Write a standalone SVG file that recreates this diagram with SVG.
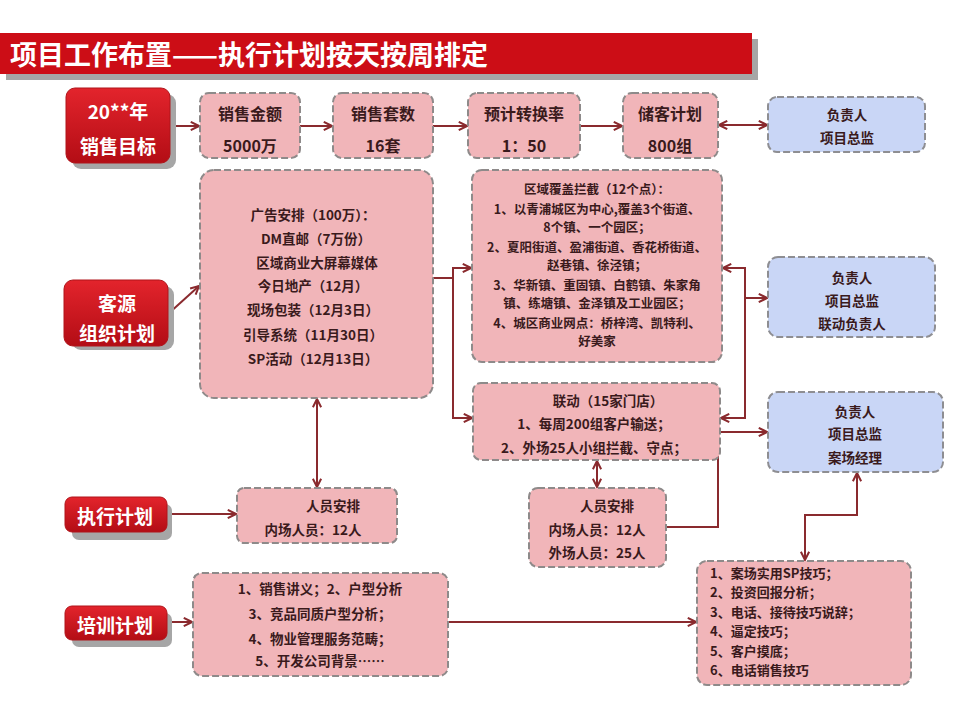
<svg xmlns="http://www.w3.org/2000/svg" width="960" height="720" viewBox="0 0 960 720">
<defs>
<linearGradient id="rg" x1="0" y1="0" x2="0" y2="1">
<stop offset="0" stop-color="#e3242c"/><stop offset="1" stop-color="#b30d15"/>
</linearGradient>
<marker id="ar" viewBox="0 0 12 12" refX="11" refY="6" markerWidth="11" markerHeight="11" markerUnits="userSpaceOnUse" orient="auto-start-reverse">
<path d="M2,1.5 L11,6 L2,10.5" fill="none" stroke="#8a2a2e" stroke-width="2.2" stroke-linejoin="miter"/>
</marker>
<style>
text{font-family:"Noto Sans CJK SC","Noto Sans",sans-serif;font-weight:bold;dominant-baseline:central}
.t{fill:#3a1a1c;font-size:13.5px;text-anchor:middle}
.ts{fill:#3a1a1c;font-size:12.5px;text-anchor:middle}
.tl{fill:#3a1a1c;font-size:13px;text-anchor:start}
.tb{fill:#3a1a1c;font-size:16px;text-anchor:middle}
.w{fill:#ffffff;font-size:19px;text-anchor:middle}
.pink{fill:#f1b5b9;stroke:#8e8a8a;stroke-width:2;stroke-dasharray:7 3}
.blue{fill:#c9d6f6;stroke:#8e8e92;stroke-width:2;stroke-dasharray:7 3}
.red{fill:url(#rg);stroke:#b0141a;stroke-width:1}
.sh{fill:#a6a6a6}
.c{fill:none;stroke:#8a2a2e;stroke-width:2}
</style>
</defs>
<rect x="0" y="0" width="960" height="720" fill="#ffffff"/>

<g id="title">
<rect x="6" y="39" width="752" height="41" class="sh"/>
<rect x="0" y="33" width="752" height="41" fill="#cc0d16"/>
<text x="10" y="53" style="fill:#ffffff;font-size:27px;text-anchor:start">项目工作布置——执行计划按天按周排定</text>
</g>

<g id="connectors">
<path class="c" d="M170,126 H199" marker-end="url(#ar)"/>
<path class="c" d="M300,126 H332" marker-end="url(#ar)"/>
<path class="c" d="M433,126 H467" marker-end="url(#ar)"/>
<path class="c" d="M580,126 H622" marker-end="url(#ar)"/>
<path class="c" d="M719,125 H767" marker-start="url(#ar)" marker-end="url(#ar)"/>
<path class="c" d="M168,314 L199,286" marker-end="url(#ar)"/>
<path class="c" d="M433,278 H453"/>
<path class="c" d="M471,268 H453 V418 H472" marker-start="url(#ar)" marker-end="url(#ar)"/>
<path class="c" d="M723,268 H745 V418 H721" marker-start="url(#ar)" marker-end="url(#ar)"/>
<path class="c" d="M745,298 H767" marker-end="url(#ar)"/>
<path class="c" d="M317,399 V487" marker-start="url(#ar)" marker-end="url(#ar)"/>
<path class="c" d="M597,461 V487" marker-start="url(#ar)" marker-end="url(#ar)"/>
<path class="c" d="M667,527 H718 V432 H767" marker-end="url(#ar)"/>
<path class="c" d="M167,514 H236" marker-end="url(#ar)"/>
<path class="c" d="M167,622 H192" marker-end="url(#ar)"/>
<path class="c" d="M448,622 H696" marker-end="url(#ar)"/>
<path class="c" d="M805,560 V515 H857 V473" marker-start="url(#ar)" marker-end="url(#ar)"/>
</g>

<g id="n-target">
<rect x="72" y="94" width="104" height="75" rx="9" class="sh"/>
<rect x="66" y="88" width="104" height="75" rx="9" class="red"/>
<text x="118" y="110" class="w">20**年</text>
<text x="118" y="145" class="w">销售目标</text>
</g>
<g id="n-amount">
<rect x="200" y="93" width="100" height="65" rx="9" class="pink"/>
<text x="250" y="113" class="tb">销售金额</text>
<text x="250" y="145" class="tb">5000万</text>
</g>
<g id="n-units">
<rect x="333" y="93" width="100" height="65" rx="9" class="pink"/>
<text x="383" y="113" class="tb">销售套数</text>
<text x="383" y="145" class="tb">16套</text>
</g>
<g id="n-rate">
<rect x="468" y="93" width="112" height="65" rx="9" class="pink"/>
<text x="524" y="113" class="tb">预计转换率</text>
<text x="524" y="145" class="tb">1：50</text>
</g>
<g id="n-reserve">
<rect x="623" y="93" width="95" height="65" rx="9" class="pink"/>
<text x="670" y="113" class="tb">储客计划</text>
<text x="670" y="145" class="tb">800组</text>
</g>
<g id="n-owner1">
<rect x="768" y="97" width="157" height="55" rx="9" class="blue"/>
<text x="847" y="114" class="t">负责人</text>
<text x="847" y="137" class="t">项目总监</text>
</g>

<g id="n-source">
<rect x="72" y="286" width="102" height="64" rx="9" class="sh"/>
<rect x="64" y="280" width="104" height="66" rx="9" class="red"/>
<text x="117" y="302" class="w">客源</text>
<text x="117" y="332" class="w">组织计划</text>
</g>
<g id="n-ads">
<rect x="200" y="170" width="233" height="228" rx="14" class="pink"/>
<text x="313" y="214" class="t">广告安排（100万）：</text>
<text x="316" y="238" class="t">DM直邮（7万份）</text>
<text x="317" y="262" class="t">区域商业大屏幕媒体</text>
<text x="313" y="285" class="t">今日地产（12月）</text>
<text x="313" y="309" class="t">现场包装（12月3日）</text>
<text x="313" y="334" class="t">引导系统（11月30日）</text>
<text x="313" y="358" class="t">SP活动（12月13日）</text>
</g>
<g id="n-area">
<rect x="472" y="170" width="250" height="192" rx="10" class="pink"/>
<text x="597" y="188" class="ts">区域覆盖拦截（12个点）：</text>
<text x="597" y="208" class="ts">1、以青浦城区为中心,覆盖3个街道、</text>
<text x="597" y="226.5" class="ts">8个镇、一个园区；</text>
<text x="597" y="246" class="ts">2、夏阳街道、盈浦街道、香花桥街道、</text>
<text x="597" y="264.5" class="ts">赵巷镇、徐泾镇；</text>
<text x="597" y="284" class="ts">3、华新镇、重固镇、白鹤镇、朱家角</text>
<text x="597" y="302.5" class="ts">镇、练塘镇、金泽镇及工业园区；</text>
<text x="597" y="322" class="ts">4、城区商业网点：桥梓湾、凯特利、</text>
<text x="597" y="340.5" class="ts">好美家</text>
</g>
<g id="n-owner2">
<rect x="768" y="257" width="167" height="80" rx="10" class="blue"/>
<text x="852" y="277" class="t">负责人</text>
<text x="852" y="300" class="t">项目总监</text>
<text x="852" y="323" class="t">联动负责人</text>
</g>
<g id="n-link">
<rect x="473" y="383" width="247" height="77" rx="8" class="pink"/>
<text x="608" y="400" class="t">联动（15家门店）</text>
<text x="594" y="423" class="t">1、每周200组客户输送；</text>
<text x="594" y="447" class="t">2、外场25人小组拦截、守点；</text>
</g>
<g id="n-owner3">
<rect x="768" y="392" width="175" height="80" rx="10" class="blue"/>
<text x="855" y="411" class="t">负责人</text>
<text x="855" y="433" class="t">项目总监</text>
<text x="855" y="457" class="t">案场经理</text>
</g>

<g id="n-exec">
<rect x="72" y="504" width="100" height="36" rx="7" class="sh"/>
<rect x="65" y="497" width="102" height="35" rx="7" class="red"/>
<text x="115" y="515" class="w">执行计划</text>
</g>
<g id="n-staff1">
<rect x="237" y="488" width="160" height="55" rx="7" class="pink"/>
<text x="333" y="505" class="t">人员安排</text>
<text x="313" y="529" class="t">内场人员：12人</text>
</g>
<g id="n-staff2">
<rect x="529" y="488" width="137" height="79" rx="9" class="pink"/>
<text x="607" y="505" class="t">人员安排</text>
<text x="597" y="529" class="t">内场人员：12人</text>
<text x="597" y="552" class="t">外场人员：25人</text>
</g>

<g id="n-train">
<rect x="72" y="613" width="100" height="34" rx="7" class="sh"/>
<rect x="65" y="606" width="102" height="34" rx="7" class="red"/>
<text x="115" y="624" class="w">培训计划</text>
</g>
<g id="n-train1">
<rect x="193" y="573" width="255" height="103" rx="9" class="pink"/>
<text x="320" y="588" class="t">1、销售讲义；2、户型分析</text>
<text x="320" y="613" class="t">3、竞品同质户型分析；</text>
<text x="320" y="638" class="t">4、物业管理服务范畴；</text>
<text x="320" y="660" class="t">5、开发公司背景……</text>
</g>
<g id="n-train2">
<rect x="697" y="561" width="214" height="124" rx="10" class="pink"/>
<text x="710" y="572" class="tl">1、案场实用SP技巧；</text>
<text x="710" y="591.5" class="tl">2、投资回报分析；</text>
<text x="710" y="611" class="tl">3、电话、接待技巧说辞；</text>
<text x="710" y="630.5" class="tl">4、逼定技巧；</text>
<text x="710" y="650" class="tl">5、客户摸底；</text>
<text x="710" y="669.5" class="tl">6、电话销售技巧</text>
</g>
</svg>
